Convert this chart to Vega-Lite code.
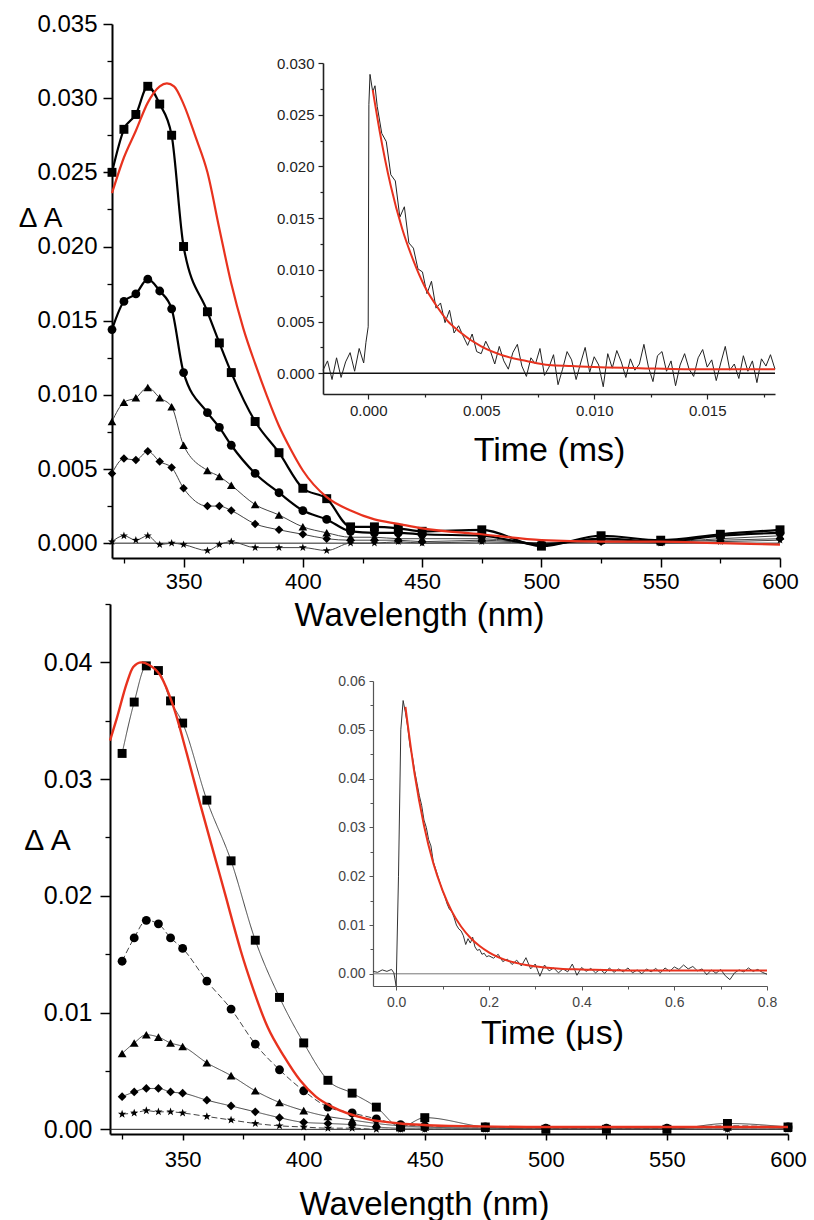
{
  "$schema": "https://vega.github.io/schema/vega-lite/v6.json",
  "width": 814,
  "height": 1220,
  "autosize": {"type": "none"},
  "padding": 0,
  "background": "white",
  "config": {
    "font": "Liberation Sans",
    "view": {"stroke": null},
    "axis": {"grid": false, "labelFlush": false, "labelOverlap": false, "titleFontWeight": "normal", "domainColor": "#000", "tickColor": "#000", "labelColor": "#000", "titleColor": "#000", "labelFont": "Liberation Sans", "titleFont": "Liberation Sans"}
  },
  "resolve": {
    "scale": {"x": "independent", "y": "independent", "shape": "independent", "size": "independent", "strokeDash": "independent"},
    "axis": {"x": "independent", "y": "independent"}
  },
  "datasets": {
    "topSpec": [
      {"wl":320,"dA":0.0250,"s":"a"},{"wl":325,"dA":0.0279,"s":"a"},{"wl":330,"dA":0.0289,"s":"a"},{"wl":335,"dA":0.0308,"s":"a"},{"wl":340,"dA":0.0296,"s":"a"},{"wl":345,"dA":0.0275,"s":"a"},{"wl":350,"dA":0.0200,"s":"a"},{"wl":360,"dA":0.0156,"s":"a"},{"wl":365,"dA":0.0135,"s":"a"},{"wl":370,"dA":0.0115,"s":"a"},{"wl":380,"dA":0.0082,"s":"a"},{"wl":390,"dA":0.0061,"s":"a"},{"wl":400,"dA":0.0037,"s":"a"},{"wl":410,"dA":0.0030,"s":"a"},{"wl":420,"dA":0.0011,"s":"a"},{"wl":430,"dA":0.0011,"s":"a"},{"wl":440,"dA":0.0010,"s":"a"},{"wl":450,"dA":0.0008,"s":"a"},{"wl":475,"dA":0.0009,"s":"a"},{"wl":500,"dA":-0.0002,"s":"a"},{"wl":525,"dA":0.0005,"s":"a"},{"wl":550,"dA":0.0002,"s":"a"},{"wl":575,"dA":0.0006,"s":"a"},{"wl":600,"dA":0.0009,"s":"a"},
      {"wl":320,"dA":0.0144,"s":"b"},{"wl":325,"dA":0.0163,"s":"b"},{"wl":330,"dA":0.0168,"s":"b"},{"wl":335,"dA":0.0178,"s":"b"},{"wl":340,"dA":0.0170,"s":"b"},{"wl":345,"dA":0.0158,"s":"b"},{"wl":350,"dA":0.0115,"s":"b"},{"wl":360,"dA":0.0088,"s":"b"},{"wl":365,"dA":0.0078,"s":"b"},{"wl":370,"dA":0.0066,"s":"b"},{"wl":380,"dA":0.0047,"s":"b"},{"wl":390,"dA":0.0034,"s":"b"},{"wl":400,"dA":0.0022,"s":"b"},{"wl":410,"dA":0.0016,"s":"b"},{"wl":420,"dA":0.0008,"s":"b"},{"wl":430,"dA":0.0007,"s":"b"},{"wl":440,"dA":0.0007,"s":"b"},{"wl":450,"dA":0.0006,"s":"b"},{"wl":475,"dA":0.0005,"s":"b"},{"wl":500,"dA":-0.0001,"s":"b"},{"wl":525,"dA":0.0003,"s":"b"},{"wl":550,"dA":0.0001,"s":"b"},{"wl":575,"dA":0.0005,"s":"b"},{"wl":600,"dA":0.0007,"s":"b"},
      {"wl":320,"dA":0.0082,"s":"c"},{"wl":325,"dA":0.0095,"s":"c"},{"wl":330,"dA":0.0098,"s":"c"},{"wl":335,"dA":0.0105,"s":"c"},{"wl":340,"dA":0.0098,"s":"c"},{"wl":345,"dA":0.0092,"s":"c"},{"wl":350,"dA":0.0066,"s":"c"},{"wl":360,"dA":0.0049,"s":"c"},{"wl":365,"dA":0.0045,"s":"c"},{"wl":370,"dA":0.0039,"s":"c"},{"wl":380,"dA":0.0026,"s":"c"},{"wl":390,"dA":0.0019,"s":"c"},{"wl":400,"dA":0.0011,"s":"c"},{"wl":410,"dA":0.0007,"s":"c"},{"wl":420,"dA":0.0004,"s":"c"},{"wl":430,"dA":0.0004,"s":"c"},{"wl":440,"dA":0.0003,"s":"c"},{"wl":450,"dA":0.0003,"s":"c"},{"wl":475,"dA":0.0003,"s":"c"},{"wl":500,"dA":0.0000,"s":"c"},{"wl":525,"dA":0.0002,"s":"c"},{"wl":550,"dA":0.0001,"s":"c"},{"wl":575,"dA":0.0003,"s":"c"},{"wl":600,"dA":0.0005,"s":"c"},
      {"wl":320,"dA":0.0047,"s":"d"},{"wl":325,"dA":0.0057,"s":"d"},{"wl":330,"dA":0.0056,"s":"d"},{"wl":335,"dA":0.0062,"s":"d"},{"wl":340,"dA":0.0055,"s":"d"},{"wl":345,"dA":0.0051,"s":"d"},{"wl":350,"dA":0.0037,"s":"d"},{"wl":360,"dA":0.0025,"s":"d"},{"wl":365,"dA":0.0025,"s":"d"},{"wl":370,"dA":0.0022,"s":"d"},{"wl":380,"dA":0.0013,"s":"d"},{"wl":390,"dA":0.0009,"s":"d"},{"wl":400,"dA":0.0006,"s":"d"},{"wl":410,"dA":0.0003,"s":"d"},{"wl":420,"dA":0.0002,"s":"d"},{"wl":430,"dA":0.0002,"s":"d"},{"wl":440,"dA":0.0002,"s":"d"},{"wl":450,"dA":0.0001,"s":"d"},{"wl":475,"dA":0.0002,"s":"d"},{"wl":500,"dA":0.0000,"s":"d"},{"wl":525,"dA":0.0001,"s":"d"},{"wl":550,"dA":0.0001,"s":"d"},{"wl":575,"dA":0.0002,"s":"d"},{"wl":600,"dA":0.0003,"s":"d"},
      {"wl":320,"dA":0.0001,"s":"e"},{"wl":325,"dA":0.0005,"s":"e"},{"wl":330,"dA":0.0002,"s":"e"},{"wl":335,"dA":0.0005,"s":"e"},{"wl":340,"dA":-0.0001,"s":"e"},{"wl":345,"dA":0.0000,"s":"e"},{"wl":350,"dA":-0.0001,"s":"e"},{"wl":360,"dA":-0.0005,"s":"e"},{"wl":365,"dA":-0.0001,"s":"e"},{"wl":370,"dA":0.0001,"s":"e"},{"wl":380,"dA":-0.0003,"s":"e"},{"wl":390,"dA":-0.0003,"s":"e"},{"wl":400,"dA":-0.0003,"s":"e"},{"wl":410,"dA":-0.0005,"s":"e"},{"wl":420,"dA":0.0000,"s":"e"},{"wl":430,"dA":0.0000,"s":"e"},{"wl":440,"dA":0.0001,"s":"e"},{"wl":450,"dA":0.0000,"s":"e"},{"wl":475,"dA":0.0001,"s":"e"},{"wl":500,"dA":0.0000,"s":"e"},{"wl":525,"dA":0.0001,"s":"e"},{"wl":550,"dA":0.0000,"s":"e"},{"wl":575,"dA":0.0001,"s":"e"},{"wl":600,"dA":0.0002,"s":"e"}
    ],
    "topFit": [
      {"wl":320,"dA":0.0236},{"wl":325,"dA":0.0260},{"wl":330,"dA":0.0278},{"wl":335,"dA":0.0297},{"wl":340,"dA":0.0308},{"wl":343,"dA":0.0310},{"wl":346,"dA":0.0308},{"wl":350,"dA":0.0296},{"wl":355,"dA":0.0274},{"wl":360,"dA":0.0250},{"wl":365,"dA":0.0212},{"wl":370,"dA":0.0175},{"wl":375,"dA":0.0145},{"wl":380,"dA":0.0121},{"wl":385,"dA":0.0099},{"wl":390,"dA":0.0079},{"wl":395,"dA":0.0063},{"wl":400,"dA":0.0049},{"wl":410,"dA":0.0031},{"wl":420,"dA":0.0022},{"wl":430,"dA":0.0016},{"wl":440,"dA":0.0013},{"wl":450,"dA":0.0010},{"wl":475,"dA":0.0006},{"wl":500,"dA":0.0002},{"wl":525,"dA":0.0001},{"wl":550,"dA":0.0001},{"wl":575,"dA":0.0000},{"wl":600,"dA":-0.0001}
    ],
    "tiTrace": [
      {"t":-0.002,"dA":0.0003},{"t":-0.0018,"dA":0.0012},{"t":-0.0016,"dA":-0.0006},{"t":-0.0014,"dA":0.0015},{"t":-0.0012,"dA":-0.0004},{"t":-0.001,"dA":0.0011},{"t":-0.0008,"dA":0.0020},{"t":-0.0006,"dA":0.0002},{"t":-0.0004,"dA":0.0024},{"t":-0.0002,"dA":0.0010},{"t":-0.0001,"dA":0.0030},{"t":0.0,"dA":0.0045},{"t":0.00003,"dA":0.0260},{"t":0.00008,"dA":0.0289},{"t":0.0002,"dA":0.0272},{"t":0.0003,"dA":0.0278},{"t":0.0004,"dA":0.0258},{"t":0.0006,"dA":0.0232},{"t":0.0008,"dA":0.0224},{"t":0.001,"dA":0.0192},{"t":0.0012,"dA":0.0186},{"t":0.0014,"dA":0.0151},{"t":0.0016,"dA":0.0161},{"t":0.0018,"dA":0.0126},{"t":0.002,"dA":0.0121},{"t":0.0022,"dA":0.0101},{"t":0.0024,"dA":0.0098},{"t":0.0026,"dA":0.0077},{"t":0.0028,"dA":0.0089},{"t":0.003,"dA":0.0063},{"t":0.0032,"dA":0.0068},{"t":0.0034,"dA":0.0049},{"t":0.0036,"dA":0.0061},{"t":0.0038,"dA":0.0039},{"t":0.004,"dA":0.0046},{"t":0.0042,"dA":0.0036},{"t":0.0044,"dA":0.0027},{"t":0.0046,"dA":0.0038},{"t":0.0048,"dA":0.0021},{"t":0.005,"dA":0.0019},{"t":0.0052,"dA":0.0031},{"t":0.0054,"dA":0.0022},{"t":0.0056,"dA":0.0009},{"t":0.0058,"dA":0.0026},{"t":0.006,"dA":0.0012},{"t":0.0062,"dA":0.0004},{"t":0.0064,"dA":0.0020},{"t":0.0066,"dA":0.0028},{"t":0.0068,"dA":0.0007},{"t":0.007,"dA":-0.0003},{"t":0.0072,"dA":0.0015},{"t":0.0074,"dA":0.0009},{"t":0.0076,"dA":0.0024},{"t":0.0078,"dA":-0.0002},{"t":0.008,"dA":0.0006},{"t":0.0082,"dA":0.0018},{"t":0.0084,"dA":-0.0011},{"t":0.0086,"dA":0.0004},{"t":0.0088,"dA":0.0021},{"t":0.009,"dA":0.0013},{"t":0.0092,"dA":-0.0006},{"t":0.0094,"dA":0.0010},{"t":0.0096,"dA":0.0025},{"t":0.0098,"dA":0.0001},{"t":0.01,"dA":0.0016},{"t":0.0102,"dA":0.0008},{"t":0.0104,"dA":-0.0013},{"t":0.0106,"dA":0.0019},{"t":0.0108,"dA":0.0005},{"t":0.011,"dA":0.0022},{"t":0.0112,"dA":0.0011},{"t":0.0114,"dA":-0.0004},{"t":0.0116,"dA":0.0014},{"t":0.0118,"dA":0.0003},{"t":0.012,"dA":0.0009},{"t":0.0122,"dA":0.0028},{"t":0.0124,"dA":0.0006},{"t":0.0126,"dA":-0.0008},{"t":0.0128,"dA":0.0017},{"t":0.013,"dA":0.0021},{"t":0.0132,"dA":0.0002},{"t":0.0134,"dA":0.0012},{"t":0.0136,"dA":-0.0012},{"t":0.0138,"dA":0.0008},{"t":0.014,"dA":0.0019},{"t":0.0142,"dA":0.0004},{"t":0.0144,"dA":-0.0003},{"t":0.0146,"dA":0.0015},{"t":0.0148,"dA":0.0023},{"t":0.015,"dA":0.0006},{"t":0.0152,"dA":0.0013},{"t":0.0154,"dA":-0.0007},{"t":0.0156,"dA":0.0010},{"t":0.0158,"dA":0.0026},{"t":0.016,"dA":0.0003},{"t":0.0162,"dA":0.0009},{"t":0.0164,"dA":-0.0005},{"t":0.0166,"dA":0.0017},{"t":0.0168,"dA":0.0002},{"t":0.017,"dA":0.0012},{"t":0.0172,"dA":-0.0009},{"t":0.0174,"dA":0.0014},{"t":0.0176,"dA":0.0007},{"t":0.0178,"dA":0.0018},{"t":0.018,"dA":0.0004}
    ],
    "tiFit": [
      {"t":0.0002,"dA":0.0274},{"t":0.0005,"dA":0.0235},{"t":0.001,"dA":0.0181},{"t":0.0015,"dA":0.0140},{"t":0.002,"dA":0.0109},{"t":0.0025,"dA":0.0084},{"t":0.003,"dA":0.0066},{"t":0.0035,"dA":0.0051},{"t":0.004,"dA":0.0041},{"t":0.005,"dA":0.0026},{"t":0.006,"dA":0.0017},{"t":0.007,"dA":0.0012},{"t":0.008,"dA":0.0008},{"t":0.009,"dA":0.0007},{"t":0.01,"dA":0.0006},{"t":0.012,"dA":0.0005},{"t":0.014,"dA":0.0004},{"t":0.016,"dA":0.0004},{"t":0.018,"dA":0.0004}
    ],
    "botSpec": [
      {"wl":325,"dA":0.0322,"s":"a"},{"wl":330,"dA":0.0366,"s":"a"},{"wl":335,"dA":0.0397,"s":"a"},{"wl":340,"dA":0.0393,"s":"a"},{"wl":345,"dA":0.0367,"s":"a"},{"wl":350,"dA":0.0348,"s":"a"},{"wl":360,"dA":0.0282,"s":"a"},{"wl":370,"dA":0.0230,"s":"a"},{"wl":380,"dA":0.0162,"s":"a"},{"wl":390,"dA":0.0113,"s":"a"},{"wl":400,"dA":0.0074,"s":"a"},{"wl":410,"dA":0.0042,"s":"a"},{"wl":420,"dA":0.0031,"s":"a"},{"wl":430,"dA":0.0019,"s":"a"},{"wl":440,"dA":0.0002,"s":"a"},{"wl":450,"dA":0.0010,"s":"a"},{"wl":475,"dA":0.0002,"s":"a"},{"wl":500,"dA":0.0000,"s":"a"},{"wl":525,"dA":0.0000,"s":"a"},{"wl":550,"dA":0.0000,"s":"a"},{"wl":575,"dA":0.0005,"s":"a"},{"wl":600,"dA":0.0002,"s":"a"},
      {"wl":325,"dA":0.0144,"s":"b"},{"wl":330,"dA":0.0164,"s":"b"},{"wl":335,"dA":0.0179,"s":"b"},{"wl":340,"dA":0.0176,"s":"b"},{"wl":345,"dA":0.0164,"s":"b"},{"wl":350,"dA":0.0155,"s":"b"},{"wl":360,"dA":0.0127,"s":"b"},{"wl":370,"dA":0.0103,"s":"b"},{"wl":380,"dA":0.0073,"s":"b"},{"wl":390,"dA":0.0051,"s":"b"},{"wl":400,"dA":0.0033,"s":"b"},{"wl":410,"dA":0.0019,"s":"b"},{"wl":420,"dA":0.0014,"s":"b"},{"wl":430,"dA":0.0009,"s":"b"},{"wl":440,"dA":0.0004,"s":"b"},{"wl":450,"dA":0.0003,"s":"b"},{"wl":475,"dA":0.0002,"s":"b"},{"wl":500,"dA":0.0001,"s":"b"},{"wl":525,"dA":0.0001,"s":"b"},{"wl":550,"dA":0.0001,"s":"b"},{"wl":575,"dA":0.0003,"s":"b"},{"wl":600,"dA":0.0002,"s":"b"},
      {"wl":325,"dA":0.0065,"s":"c"},{"wl":330,"dA":0.0074,"s":"c"},{"wl":335,"dA":0.0081,"s":"c"},{"wl":340,"dA":0.0079,"s":"c"},{"wl":345,"dA":0.0074,"s":"c"},{"wl":350,"dA":0.0071,"s":"c"},{"wl":360,"dA":0.0057,"s":"c"},{"wl":370,"dA":0.0046,"s":"c"},{"wl":380,"dA":0.0033,"s":"c"},{"wl":390,"dA":0.0023,"s":"c"},{"wl":400,"dA":0.0016,"s":"c"},{"wl":410,"dA":0.0011,"s":"c"},{"wl":420,"dA":0.0008,"s":"c"},{"wl":430,"dA":0.0005,"s":"c"},{"wl":440,"dA":0.0003,"s":"c"},{"wl":450,"dA":0.0002,"s":"c"},{"wl":475,"dA":0.0001,"s":"c"},{"wl":500,"dA":0.0001,"s":"c"},{"wl":525,"dA":0.0001,"s":"c"},{"wl":550,"dA":0.0001,"s":"c"},{"wl":575,"dA":0.0002,"s":"c"},{"wl":600,"dA":0.0001,"s":"c"},
      {"wl":325,"dA":0.0028,"s":"d"},{"wl":330,"dA":0.0032,"s":"d"},{"wl":335,"dA":0.0035,"s":"d"},{"wl":340,"dA":0.0035,"s":"d"},{"wl":345,"dA":0.0032,"s":"d"},{"wl":350,"dA":0.0031,"s":"d"},{"wl":360,"dA":0.0025,"s":"d"},{"wl":370,"dA":0.0020,"s":"d"},{"wl":380,"dA":0.0015,"s":"d"},{"wl":390,"dA":0.0010,"s":"d"},{"wl":400,"dA":0.0006,"s":"d"},{"wl":410,"dA":0.0005,"s":"d"},{"wl":420,"dA":0.0004,"s":"d"},{"wl":430,"dA":0.0002,"s":"d"},{"wl":440,"dA":0.0001,"s":"d"},{"wl":450,"dA":0.0001,"s":"d"},{"wl":475,"dA":0.0001,"s":"d"},{"wl":500,"dA":0.0001,"s":"d"},{"wl":525,"dA":0.0001,"s":"d"},{"wl":550,"dA":0.0001,"s":"d"},{"wl":575,"dA":0.0001,"s":"d"},{"wl":600,"dA":0.0001,"s":"d"},
      {"wl":325,"dA":0.0013,"s":"e"},{"wl":330,"dA":0.0014,"s":"e"},{"wl":335,"dA":0.0016,"s":"e"},{"wl":340,"dA":0.0015,"s":"e"},{"wl":345,"dA":0.0015,"s":"e"},{"wl":350,"dA":0.0014,"s":"e"},{"wl":360,"dA":0.0011,"s":"e"},{"wl":370,"dA":0.0008,"s":"e"},{"wl":380,"dA":0.0005,"s":"e"},{"wl":390,"dA":0.0003,"s":"e"},{"wl":400,"dA":0.0002,"s":"e"},{"wl":410,"dA":0.0001,"s":"e"},{"wl":420,"dA":0.0001,"s":"e"},{"wl":430,"dA":0.0000,"s":"e"},{"wl":440,"dA":0.0000,"s":"e"},{"wl":450,"dA":0.0000,"s":"e"},{"wl":475,"dA":0.0000,"s":"e"},{"wl":500,"dA":0.0000,"s":"e"},{"wl":525,"dA":0.0000,"s":"e"},{"wl":550,"dA":0.0000,"s":"e"},{"wl":575,"dA":0.0000,"s":"e"},{"wl":600,"dA":0.0000,"s":"e"}
    ],
    "botFit": [
      {"wl":320,"dA":0.0333},{"wl":322.8,"dA":0.0352},{"wl":326.9,"dA":0.0382},{"wl":329.6,"dA":0.0396},{"wl":333,"dA":0.0400},{"wl":336,"dA":0.0398},{"wl":340.7,"dA":0.0389},{"wl":346.2,"dA":0.0362},{"wl":351.7,"dA":0.0322},{"wl":357.2,"dA":0.0279},{"wl":364,"dA":0.0228},{"wl":368,"dA":0.0198},{"wl":371,"dA":0.0175},{"wl":374,"dA":0.0153},{"wl":379,"dA":0.0121},{"wl":385,"dA":0.0088},{"wl":392,"dA":0.0062},{"wl":398.5,"dA":0.0042},{"wl":405,"dA":0.0028},{"wl":412,"dA":0.0019},{"wl":426,"dA":0.0009},{"wl":440,"dA":0.0005},{"wl":460,"dA":0.0003},{"wl":500,"dA":0.0002},{"wl":550,"dA":0.0002},{"wl":600,"dA":0.0002}
    ],
    "biTrace": [
      {"t":-0.05,"dA":0.0005},{"t":-0.04,"dA":0.0003},{"t":-0.03,"dA":0.0008},{"t":-0.02,"dA":0.0005},{"t":-0.01,"dA":0.0009},{"t":-0.005,"dA":0.0002},{"t":0.0,"dA":-0.0025},{"t":0.005,"dA":0.0200},{"t":0.01,"dA":0.0500},{"t":0.015,"dA":0.0560},{"t":0.02,"dA":0.0535},{"t":0.025,"dA":0.0505},{"t":0.03,"dA":0.0465},{"t":0.035,"dA":0.0445},{"t":0.04,"dA":0.0415},{"t":0.045,"dA":0.0390},{"t":0.05,"dA":0.0365},{"t":0.055,"dA":0.0345},{"t":0.06,"dA":0.0315},{"t":0.065,"dA":0.0300},{"t":0.07,"dA":0.0275},{"t":0.075,"dA":0.0262},{"t":0.08,"dA":0.0230},{"t":0.085,"dA":0.0215},{"t":0.09,"dA":0.0200},{"t":0.095,"dA":0.0185},{"t":0.1,"dA":0.0170},{"t":0.105,"dA":0.0158},{"t":0.11,"dA":0.0143},{"t":0.115,"dA":0.0132},{"t":0.12,"dA":0.0128},{"t":0.125,"dA":0.0115},{"t":0.13,"dA":0.0100},{"t":0.135,"dA":0.0092},{"t":0.14,"dA":0.0088},{"t":0.145,"dA":0.0078},{"t":0.15,"dA":0.0060},{"t":0.155,"dA":0.0072},{"t":0.16,"dA":0.0063},{"t":0.165,"dA":0.0075},{"t":0.17,"dA":0.0055},{"t":0.175,"dA":0.0048},{"t":0.18,"dA":0.0050},{"t":0.185,"dA":0.0040},{"t":0.19,"dA":0.0042},{"t":0.195,"dA":0.0035},{"t":0.2,"dA":0.0037},{"t":0.21,"dA":0.0032},{"t":0.22,"dA":0.0040},{"t":0.23,"dA":0.0025},{"t":0.24,"dA":0.0030},{"t":0.25,"dA":0.0019},{"t":0.26,"dA":0.0028},{"t":0.27,"dA":0.0016},{"t":0.28,"dA":0.0033},{"t":0.29,"dA":0.0010},{"t":0.3,"dA":0.0020},{"t":0.31,"dA":-0.0005},{"t":0.32,"dA":0.0018},{"t":0.33,"dA":0.0006},{"t":0.34,"dA":0.0012},{"t":0.35,"dA":0.0002},{"t":0.36,"dA":0.0010},{"t":0.37,"dA":0.0004},{"t":0.38,"dA":0.0020},{"t":0.39,"dA":-0.0003},{"t":0.4,"dA":0.0013},{"t":0.41,"dA":0.0005},{"t":0.42,"dA":0.0011},{"t":0.43,"dA":0.0002},{"t":0.44,"dA":0.0009},{"t":0.45,"dA":0.0001},{"t":0.46,"dA":0.0012},{"t":0.47,"dA":0.0003},{"t":0.48,"dA":0.0010},{"t":0.49,"dA":0.0004},{"t":0.5,"dA":0.0012},{"t":0.51,"dA":0.0002},{"t":0.52,"dA":0.0008},{"t":0.53,"dA":0.0000},{"t":0.54,"dA":0.0010},{"t":0.55,"dA":0.0004},{"t":0.56,"dA":0.0011},{"t":0.57,"dA":0.0002},{"t":0.58,"dA":0.0012},{"t":0.59,"dA":0.0005},{"t":0.6,"dA":0.0014},{"t":0.61,"dA":0.0009},{"t":0.62,"dA":0.0018},{"t":0.63,"dA":0.0010},{"t":0.64,"dA":0.0015},{"t":0.65,"dA":0.0006},{"t":0.66,"dA":0.0010},{"t":0.67,"dA":-0.0002},{"t":0.68,"dA":0.0008},{"t":0.69,"dA":0.0001},{"t":0.7,"dA":0.0009},{"t":0.71,"dA":-0.0004},{"t":0.72,"dA":-0.0012},{"t":0.73,"dA":0.0002},{"t":0.74,"dA":0.0008},{"t":0.75,"dA":0.0004},{"t":0.76,"dA":0.0012},{"t":0.77,"dA":0.0005},{"t":0.78,"dA":0.0009},{"t":0.79,"dA":0.0003},{"t":0.8,"dA":-0.0001}
    ],
    "biFit": [
      {"t":0.02,"dA":0.0547},{"t":0.04,"dA":0.0408},{"t":0.06,"dA":0.0304},{"t":0.08,"dA":0.0227},{"t":0.1,"dA":0.0171},{"t":0.12,"dA":0.0128},{"t":0.14,"dA":0.0097},{"t":0.16,"dA":0.0074},{"t":0.18,"dA":0.0057},{"t":0.2,"dA":0.0044},{"t":0.24,"dA":0.0027},{"t":0.28,"dA":0.0018},{"t":0.32,"dA":0.0013},{"t":0.36,"dA":0.0010},{"t":0.4,"dA":0.0009},{"t":0.5,"dA":0.0007},{"t":0.6,"dA":0.0007},{"t":0.7,"dA":0.0007},{"t":0.8,"dA":0.0007}
    ]
  },
  "layer": [
    {
      "data": {"values": [{}]},
      "mark": {"type": "rule", "color": "#222", "strokeWidth": 1},
      "encoding": {
        "x": {"datum": 320, "type": "quantitative", "scale": {"domain": [320, 600], "range": [112, 780], "nice": false, "zero": false}, "axis": null},
        "x2": {"datum": 600},
        "y": {"datum": 0, "type": "quantitative", "scale": {"domain": [-0.001, 0.035], "range": [558, 24], "nice": false, "zero": false}, "axis": null}
      }
    },
    {
      "data": {"name": "topSpec"},
      "transform": [{"filter": "datum.s != 'a' && datum.s != 'b'"}],
      "mark": {"type": "line", "interpolate": "monotone", "color": "#444", "strokeWidth": 1},
      "encoding": {
        "x": {"field": "wl", "type": "quantitative", "scale": {"domain": [320, 600], "range": [112, 780], "nice": false, "zero": false}, "axis": null},
        "y": {"field": "dA", "type": "quantitative", "scale": {"domain": [-0.001, 0.035], "range": [558, 24], "nice": false, "zero": false}, "axis": null},
        "detail": {"field": "s"}
      }
    },
    {
      "data": {"name": "topSpec"},
      "transform": [{"filter": "datum.s == 'a' || datum.s == 'b'"}],
      "mark": {"type": "line", "interpolate": "monotone", "color": "#000", "strokeWidth": 2.2},
      "encoding": {
        "x": {"field": "wl", "type": "quantitative", "scale": {"domain": [320, 600], "range": [112, 780], "nice": false, "zero": false},
          "axis": {"orient": "bottom", "offset": -662, "values": [350, 400, 450, 500, 550, 600], "format": "d", "labelFontSize": 22, "labelPadding": 4, "tickSize": 9, "tickWidth": 1.5, "domainWidth": 2, "title": "Wavelength (nm)", "titleFontSize": 33, "titleX": 419, "titleY": 67, "titleAlign": "center", "titleBaseline": "alphabetic"}},
        "y": {"field": "dA", "type": "quantitative", "scale": {"domain": [-0.001, 0.035], "range": [558, 24], "nice": false, "zero": false},
          "axis": {"orient": "left", "offset": -112, "values": [0, 0.005, 0.01, 0.015, 0.02, 0.025, 0.03, 0.035], "format": ".3f", "labelFontSize": 24, "labelPadding": 6, "tickSize": 9, "tickWidth": 1.5, "domainWidth": 2, "title": "Δ A", "titleFontSize": 28, "titleAngle": 0, "titleX": -72, "titleY": 218, "titleAlign": "center", "titleBaseline": "middle"}},
        "detail": {"field": "s"}
      }
    },
    {
      "data": {"name": "topSpec"},
      "mark": {"type": "point", "filled": true, "color": "#000", "opacity": 1},
      "encoding": {
        "x": {"field": "wl", "type": "quantitative", "scale": {"domain": [320, 600], "range": [112, 780], "nice": false, "zero": false}, "axis": null},
        "y": {"field": "dA", "type": "quantitative", "scale": {"domain": [-0.001, 0.035], "range": [558, 24], "nice": false, "zero": false}, "axis": null},
        "shape": {"field": "s", "type": "nominal", "scale": {"domain": ["a", "b", "c", "d", "e"], "range": ["square", "circle", "triangle-up", "diamond", "M0,-1L0.235,-0.324L0.951,-0.309L0.38,0.124L0.588,0.809L0,0.4L-0.588,0.809L-0.38,0.124L-0.951,-0.309L-0.235,-0.324Z"]}, "legend": null},
        "size": {"field": "s", "type": "ordinal", "scale": {"domain": ["a", "b", "c", "d", "e"], "range": [80, 70, 110, 115, 120]}, "legend": null}
      }
    },
    {
      "data": {"name": "topFit"},
      "mark": {"type": "line", "interpolate": "monotone", "color": "#e8321e", "strokeWidth": 2.2},
      "encoding": {
        "x": {"field": "wl", "type": "quantitative", "scale": {"domain": [320, 600], "range": [112, 780], "nice": false, "zero": false}, "axis": null},
        "y": {"field": "dA", "type": "quantitative", "scale": {"domain": [-0.001, 0.035], "range": [558, 24], "nice": false, "zero": false}, "axis": null}
      }
    },
    {
      "data": {"name": "topFit"},
      "mark": {"type": "point", "opacity": 0},
      "encoding": {
        "x": {"field": "wl", "type": "quantitative", "scale": {"domain": [320, 600], "range": [112, 780], "nice": false, "zero": false},
          "axis": {"orient": "bottom", "offset": -662, "values": [325, 375, 425, 475, 525, 575], "labels": false, "domain": false, "tickSize": 5, "tickWidth": 1.3, "title": null}},
        "y": {"field": "dA", "type": "quantitative", "scale": {"domain": [-0.001, 0.035], "range": [558, 24], "nice": false, "zero": false},
          "axis": {"orient": "left", "offset": -112, "values": [0.0025, 0.0075, 0.0125, 0.0175, 0.0225, 0.0275, 0.0325], "labels": false, "domain": false, "tickSize": 5, "tickWidth": 1.3, "title": null}}
      }
    },
    {
      "data": {"values": [{}]},
      "mark": {"type": "rule", "color": "#111", "strokeWidth": 1.5},
      "encoding": {
        "x": {"datum": -0.002, "type": "quantitative", "scale": {"domain": [-0.002, 0.018], "range": [323, 775], "nice": false, "zero": false}, "axis": null},
        "x2": {"datum": 0.018},
        "y": {"datum": 0, "type": "quantitative", "scale": {"domain": [-0.002, 0.03], "range": [394, 63], "nice": false, "zero": false}, "axis": null}
      }
    },
    {
      "data": {"name": "tiTrace"},
      "mark": {"type": "line", "color": "#222", "strokeWidth": 1},
      "encoding": {
        "x": {"field": "t", "type": "quantitative", "scale": {"domain": [-0.002, 0.018], "range": [323, 775], "nice": false, "zero": false},
          "axis": {"orient": "bottom", "offset": -826, "values": [0, 0.005, 0.01, 0.015], "format": ".3f", "labelFontSize": 15, "labelPadding": 4, "tickSize": 5, "tickWidth": 1.2, "domainWidth": 1.6, "domainColor": "#222", "tickColor": "#222", "labelColor": "#222", "title": "Time (ms)", "titleFontSize": 34, "titleX": 549, "titleY": 66, "titleAlign": "center", "titleBaseline": "alphabetic"}},
        "y": {"field": "dA", "type": "quantitative", "scale": {"domain": [-0.002, 0.03], "range": [394, 63], "nice": false, "zero": false},
          "axis": {"orient": "left", "offset": -323, "values": [0, 0.005, 0.01, 0.015, 0.02, 0.025, 0.03], "format": ".3f", "labelFontSize": 15, "labelPadding": 4, "tickSize": 5, "tickWidth": 1.2, "domainWidth": 1.6, "domainColor": "#222", "tickColor": "#222", "labelColor": "#222", "title": null}}
      }
    },
    {
      "data": {"name": "tiFit"},
      "mark": {"type": "line", "interpolate": "monotone", "color": "#e8321e", "strokeWidth": 2},
      "encoding": {
        "x": {"field": "t", "type": "quantitative", "scale": {"domain": [-0.002, 0.018], "range": [323, 775], "nice": false, "zero": false}, "axis": null},
        "y": {"field": "dA", "type": "quantitative", "scale": {"domain": [-0.002, 0.03], "range": [394, 63], "nice": false, "zero": false}, "axis": null}
      }
    },
    {
      "data": {"name": "tiFit"},
      "mark": {"type": "point", "opacity": 0},
      "encoding": {
        "x": {"field": "t", "type": "quantitative", "scale": {"domain": [-0.002, 0.018], "range": [323, 775], "nice": false, "zero": false},
          "axis": {"orient": "bottom", "offset": -826, "values": [0.0025, 0.0075, 0.0125, 0.0175], "labels": false, "domain": false, "tickSize": 3, "tickWidth": 1.2, "tickColor": "#222", "title": null}},
        "y": {"field": "dA", "type": "quantitative", "scale": {"domain": [-0.002, 0.03], "range": [394, 63], "nice": false, "zero": false},
          "axis": {"orient": "left", "offset": -323, "values": [0.0025, 0.0075, 0.0125, 0.0175, 0.0225, 0.0275], "labels": false, "domain": false, "tickSize": 3, "tickWidth": 1.2, "tickColor": "#222", "title": null}}
      }
    },
    {
      "data": {"values": [{}]},
      "mark": {"type": "rule", "color": "#222", "strokeWidth": 1},
      "encoding": {
        "x": {"datum": 320, "type": "quantitative", "scale": {"domain": [320, 600], "range": [110, 788], "nice": false, "zero": false}, "axis": null},
        "x2": {"datum": 600},
        "y": {"datum": 0, "type": "quantitative", "scale": {"domain": [-0.0004, 0.045], "range": [1134, 604], "nice": false, "zero": false}, "axis": null}
      }
    },
    {
      "data": {"name": "botSpec"},
      "mark": {"type": "line", "interpolate": "monotone", "color": "#444", "strokeWidth": 1},
      "encoding": {
        "x": {"field": "wl", "type": "quantitative", "scale": {"domain": [320, 600], "range": [110, 788], "nice": false, "zero": false},
          "axis": {"orient": "bottom", "offset": -86, "values": [350, 400, 450, 500, 550, 600], "format": "d", "labelFontSize": 22, "labelPadding": 9, "tickSize": 6, "tickWidth": 1.5, "domainWidth": 2, "title": "Wavelength (nm)", "titleFontSize": 33, "titleX": 424, "titleY": 80, "titleAlign": "center", "titleBaseline": "alphabetic"}},
        "y": {"field": "dA", "type": "quantitative", "scale": {"domain": [-0.0004, 0.045], "range": [1134, 604], "nice": false, "zero": false},
          "axis": {"orient": "left", "offset": -110, "values": [0, 0.01, 0.02, 0.03, 0.04], "format": ".2f", "labelFontSize": 25, "labelPadding": 8, "tickSize": 10, "tickWidth": 1.5, "domainWidth": 2, "title": "Δ A", "titleFontSize": 30, "titleAngle": 0, "titleX": -63, "titleY": 840, "titleAlign": "center", "titleBaseline": "middle"}},
        "detail": {"field": "s"},
        "strokeDash": {"field": "s", "type": "nominal", "scale": {"domain": ["a", "b", "c", "d", "e"], "range": [[1, 0], [6, 3], [1, 0], [1, 0], [6, 3]]}, "legend": null}
      }
    },
    {
      "data": {"name": "botSpec"},
      "mark": {"type": "point", "filled": true, "color": "#000", "opacity": 1},
      "encoding": {
        "x": {"field": "wl", "type": "quantitative", "scale": {"domain": [320, 600], "range": [110, 788], "nice": false, "zero": false}, "axis": null},
        "y": {"field": "dA", "type": "quantitative", "scale": {"domain": [-0.0004, 0.045], "range": [1134, 604], "nice": false, "zero": false}, "axis": null},
        "shape": {"field": "s", "type": "nominal", "scale": {"domain": ["a", "b", "c", "d", "e"], "range": ["square", "circle", "triangle-up", "diamond", "M0,-1L0.235,-0.324L0.951,-0.309L0.38,0.124L0.588,0.809L0,0.4L-0.588,0.809L-0.38,0.124L-0.951,-0.309L-0.235,-0.324Z"]}, "legend": null},
        "size": {"field": "s", "type": "ordinal", "scale": {"domain": ["a", "b", "c", "d", "e"], "range": [80, 75, 115, 115, 120]}, "legend": null}
      }
    },
    {
      "data": {"name": "botFit"},
      "mark": {"type": "line", "interpolate": "monotone", "color": "#e8321e", "strokeWidth": 2.4},
      "encoding": {
        "x": {"field": "wl", "type": "quantitative", "scale": {"domain": [320, 600], "range": [110, 788], "nice": false, "zero": false}, "axis": null},
        "y": {"field": "dA", "type": "quantitative", "scale": {"domain": [-0.0004, 0.045], "range": [1134, 604], "nice": false, "zero": false}, "axis": null}
      }
    },
    {
      "data": {"name": "botFit"},
      "mark": {"type": "point", "opacity": 0},
      "encoding": {
        "x": {"field": "wl", "type": "quantitative", "scale": {"domain": [320, 600], "range": [110, 788], "nice": false, "zero": false},
          "axis": {"orient": "bottom", "offset": -86, "values": [325, 375, 425, 475, 525, 575], "labels": false, "domain": false, "tickSize": 5, "tickWidth": 1.3, "title": null}},
        "y": {"field": "dA", "type": "quantitative", "scale": {"domain": [-0.0004, 0.045], "range": [1134, 604], "nice": false, "zero": false},
          "axis": {"orient": "left", "offset": -110, "values": [0.005, 0.015, 0.025, 0.035, 0.045], "labels": false, "domain": false, "tickSize": 5, "tickWidth": 1.3, "title": null}}
      }
    },
    {
      "data": {"values": [{}]},
      "mark": {"type": "rule", "color": "#777", "strokeWidth": 1},
      "encoding": {
        "x": {"datum": -0.05, "type": "quantitative", "scale": {"domain": [-0.05, 0.8], "range": [373, 767], "nice": false, "zero": false}, "axis": null},
        "x2": {"datum": 0.8},
        "y": {"datum": 0, "type": "quantitative", "scale": {"domain": [-0.0025, 0.06], "range": [986, 681], "nice": false, "zero": false}, "axis": null}
      }
    },
    {
      "data": {"name": "biTrace"},
      "mark": {"type": "line", "color": "#333", "strokeWidth": 1},
      "encoding": {
        "x": {"field": "t", "type": "quantitative", "scale": {"domain": [-0.05, 0.8], "range": [373, 767], "nice": false, "zero": false},
          "axis": {"orient": "bottom", "offset": -234, "values": [0, 0.2, 0.4, 0.6, 0.8], "format": ".1f", "labelFontSize": 14, "labelPadding": 5, "tickSize": 4, "tickWidth": 1, "domainWidth": 1.2, "domainColor": "#555", "tickColor": "#555", "labelColor": "#444", "title": "Time (μs)", "titleFontSize": 34, "titleX": 552, "titleY": 57, "titleAlign": "center", "titleBaseline": "alphabetic"}},
        "y": {"field": "dA", "type": "quantitative", "scale": {"domain": [-0.0025, 0.06], "range": [986, 681], "nice": false, "zero": false},
          "axis": {"orient": "left", "offset": -373, "values": [0, 0.01, 0.02, 0.03, 0.04, 0.05, 0.06], "format": ".2f", "labelFontSize": 14, "labelPadding": 4, "tickSize": 4, "tickWidth": 1, "domainWidth": 1.2, "domainColor": "#555", "tickColor": "#555", "labelColor": "#444", "title": null}}
      }
    },
    {
      "data": {"name": "biFit"},
      "mark": {"type": "line", "interpolate": "monotone", "color": "#e8321e", "strokeWidth": 2},
      "encoding": {
        "x": {"field": "t", "type": "quantitative", "scale": {"domain": [-0.05, 0.8], "range": [373, 767], "nice": false, "zero": false}, "axis": null},
        "y": {"field": "dA", "type": "quantitative", "scale": {"domain": [-0.0025, 0.06], "range": [986, 681], "nice": false, "zero": false}, "axis": null}
      }
    },
    {
      "data": {"name": "biFit"},
      "mark": {"type": "point", "opacity": 0},
      "encoding": {
        "x": {"field": "t", "type": "quantitative", "scale": {"domain": [-0.05, 0.8], "range": [373, 767], "nice": false, "zero": false},
          "axis": {"orient": "bottom", "offset": -234, "values": [0.1, 0.3, 0.5, 0.7], "labels": false, "domain": false, "tickSize": 3, "tickWidth": 1, "tickColor": "#555", "title": null}},
        "y": {"field": "dA", "type": "quantitative", "scale": {"domain": [-0.0025, 0.06], "range": [986, 681], "nice": false, "zero": false},
          "axis": {"orient": "left", "offset": -373, "values": [0.005, 0.015, 0.025, 0.035, 0.045, 0.055], "labels": false, "domain": false, "tickSize": 3, "tickWidth": 1, "tickColor": "#555", "title": null}}
      }
    }
  ]
}
